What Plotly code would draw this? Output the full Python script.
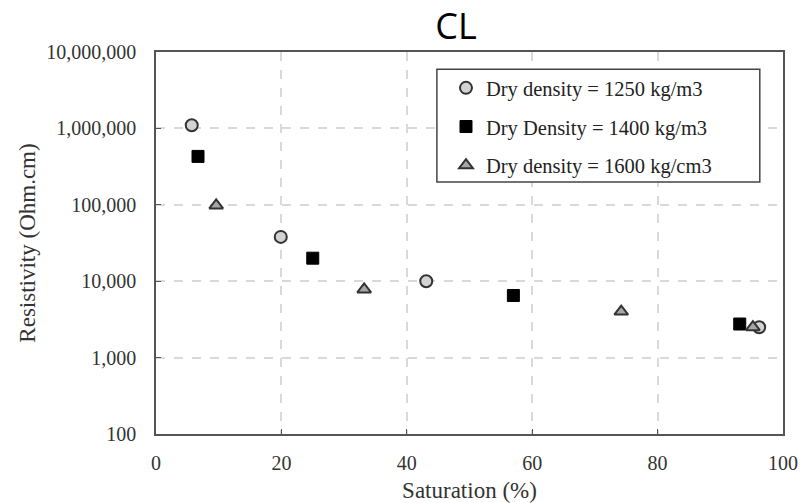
import plotly.graph_objects as go

# Data
sat_1250 = [5.7, 19.9, 43.1, 96.2]
res_1250 = [1100000, 38000, 10000, 2500]

sat_1400 = [6.7, 25.0, 57.0, 93.1]
res_1400 = [430000, 20000, 6500, 2750]

sat_1600 = [9.6, 33.2, 74.2, 95.2]
res_1600 = [98000, 7800, 4000, 2500]

names = ["Dry density = 1250 kg/m3", "Dry Density = 1400 kg/m3", "Dry density = 1600 kg/cm3"]

x_ticks = [0, 20, 40, 60, 80, 100]
y_ticks = [100, 1000, 10000, 100000, 1000000, 10000000]
y_tick_text = ["100", "1,000", "10,000", "100,000", "1,000,000", "10,000,000"]

serif = "Liberation Serif, Times New Roman, serif"

fig = go.Figure()
fig.add_trace(go.Scatter(
    x=sat_1250, y=res_1250, mode="markers", name=names[0], legendgroup="a",
    marker=dict(symbol="circle", size=12, color="#d3d3d3", line=dict(color="#333333", width=2)),
))
fig.add_trace(go.Scatter(
    x=sat_1400, y=res_1400, mode="markers", name=names[1], legendgroup="b",
    marker=dict(symbol="square", size=12, color="#000000", line=dict(color="#000000", width=1)),
))
fig.add_trace(go.Scatter(
    x=sat_1600, y=res_1600, mode="markers", name=names[2], legendgroup="c",
    marker=dict(symbol="triangle-up", size=12, color="#a6a6a6", line=dict(color="#333333", width=2)),
))

grid = dict(showgrid=True, gridcolor="#d9d9d9", gridwidth=2, griddash="dash")

fig.update_layout(
    width=800, height=503,
    margin=dict(l=156, r=17, t=52, b=69, autoexpand=False),
    paper_bgcolor="white", plot_bgcolor="white",
    title=dict(text="CL", x=0.57, xanchor="center", y=0.947, yanchor="middle",
               font=dict(family="Open Sans, Liberation Sans, sans-serif", size=36, color="#000")),
    showlegend=True,
    legend=dict(x=0.4625, y=0.958, xanchor="left", yanchor="top",
                bgcolor="rgba(0,0,0,0)", borderwidth=0,
                font=dict(family=serif, size=20.5, color="#222"),
                tracegroupgap=9, traceorder="grouped",
                itemwidth=30),
    font=dict(family=serif, color="#333"),
    shapes=[dict(type="rect", xref="paper", yref="paper",
                 x0=0.448, x1=0.963, y0=0.660, y1=0.955,
                 line=dict(color="#444", width=1.5), fillcolor="white", layer="above")],
)
fig.update_xaxes(
    range=[0, 100], tickvals=x_ticks, ticks="inside", ticklen=5, tickcolor="#555",
    showline=True, linecolor="#555", linewidth=1.5, mirror=True, automargin=False,
    tickfont=dict(family=serif, size=20, color="#333"), ticklabelstandoff=10,
    title=dict(text="Saturation (%)", font=dict(family=serif, size=23, color="#333"), standoff=9),
    zeroline=False, **grid,
)
fig.update_yaxes(
    type="log", range=[2, 7], tickvals=y_ticks, ticktext=y_tick_text,
    ticks="inside", ticklen=5, tickcolor="#555",
    showline=True, linecolor="#555", linewidth=1.5, mirror=True, automargin=False,
    tickfont=dict(family=serif, size=20, color="#333"), ticklabelstandoff=14,
    title=dict(text="Resistivity (Ohm.cm)", font=dict(family=serif, size=23, color="#333"), standoff=4),
    zeroline=False, **grid,
)

fig.write_html("out.html", config={"displayModeBar": False},
               post_script="document.body.style.margin='0px';")
